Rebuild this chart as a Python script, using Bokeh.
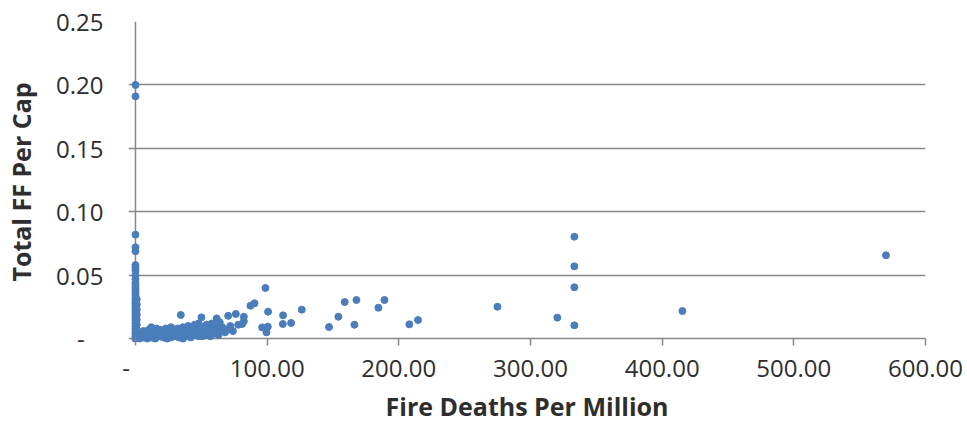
from bokeh.plotting import figure
from bokeh.models import Range1d, FixedTicker, CustomJSTickFormatter, Span, ColumnDataSource
from bokeh.embed import file_html
from bokeh.resources import INLINE

# ---- data ----
# points stacked at ~0 fire deaths per million
stack_x = [0, 0, 0, 0, 0, 0, 0, 0, 0, 0, 0, 0, 0, 0, 0, 0, 0, 0, 0, 0, 0, 0, 0, 0, 0, 0, 0, 0, 0, 0, 0, 0, 0,
           1.0, 1.0, 1.0, 1.0, 1.0, 1.0, 1.0, 1.0, 1.0, 0.5, 0.5, 0.5, 0.5]
stack_y = [0.200, 0.191, 0.082, 0.072, 0.069, 0.058, 0.056, 0.054, 0.050, 0.047, 0.044, 0.042, 0.040,
           0.038, 0.036, 0.034, 0.032, 0.030, 0.028, 0.026, 0.024, 0.022, 0.020, 0.018, 0.016, 0.014,
           0.012, 0.010, 0.008, 0.006, 0.004, 0.002, 0.000,
           0.031, 0.027, 0.023, 0.019, 0.015, 0.011, 0.007, 0.003, 0.001, 0.025, 0.017, 0.009, 0.005]

# dense low cluster, 0-130 deaths per million
low_x = [2, 3, 4, 5, 6, 7, 8, 9, 10, 11, 12, 13, 14, 15, 16, 17, 18, 19, 20, 21, 22, 23, 24, 25, 26, 27,
         28, 29, 30, 31, 32, 33, 34.4, 35, 36, 37, 38, 39, 40, 41, 42, 43, 44, 45, 46, 47, 48, 49, 50.1,
         51, 52, 53, 54, 55, 56, 57, 58, 59, 60, 61.7, 62, 64, 65, 66, 68, 70.4, 70.8, 72, 74, 76.2, 78,
         81, 82.3, 82.3, 87.3, 90.4, 96.2, 98.7, 99.5, 100.5, 100.7, 111.9, 112.1, 118.2, 126.3,
         3, 6, 9, 12, 15, 18, 21, 24, 27, 30, 33, 36, 39, 42, 45, 48, 51, 54, 57, 60, 63]
low_y = [0.002, 0.004, 0.001, 0.003, 0.006, 0.002, 0.005, 0.003, 0.007, 0.004, 0.009, 0.002, 0.006,
         0.004, 0.008, 0.003, 0.005, 0.007, 0.002, 0.006, 0.004, 0.008, 0.003, 0.006, 0.005, 0.009,
         0.004, 0.007, 0.003, 0.006, 0.008, 0.005, 0.0187, 0.004, 0.009, 0.006, 0.003, 0.008, 0.010,
         0.005, 0.007, 0.004, 0.009, 0.011, 0.006, 0.008, 0.012, 0.005, 0.0168, 0.009, 0.007, 0.004,
         0.011, 0.006, 0.009, 0.005, 0.012, 0.008, 0.006, 0.016, 0.010, 0.0129, 0.007, 0.009, 0.005,
         0.018, 0.0076, 0.010, 0.006, 0.0195, 0.011, 0.0116, 0.0173, 0.0137, 0.026, 0.0279, 0.0089,
         0.040, 0.005, 0.0095, 0.0213, 0.0116, 0.0184, 0.0124, 0.0229,
         0.000, 0.001, 0.000, 0.001, 0.000, 0.002, 0.001, 0.000, 0.001, 0.002, 0.001, 0.000, 0.002,
         0.001, 0.003, 0.002, 0.002, 0.003, 0.002, 0.004, 0.003]

# scattered higher-death points
high_x = [147.0, 154.1, 158.9, 167.8, 166.3, 184.5, 189.1, 208.0, 214.6, 274.9, 320.4,
          333.3, 333.3, 333.3, 333.3, 415.4, 570.0]
high_y = [0.0092, 0.0173, 0.0289, 0.0305, 0.0110, 0.0244, 0.0305, 0.0113, 0.0147, 0.0252, 0.0166,
          0.0804, 0.0570, 0.0405, 0.0105, 0.0218, 0.0657]

x_ticks = [0, 100, 200, 300, 400, 500, 600]
y_ticks = [0, 0.05, 0.10, 0.15, 0.20, 0.25]
x_title = "Fire Deaths Per Million"
y_title = "Total FF Per Cap"

deaths = stack_x + low_x + high_x
ff = stack_y + low_y + high_y
src = ColumnDataSource(dict(x=deaths, y=ff))

GRID = "#878787"
TXT = "#2e2e2e"
BLUE = "#4A7EBB"
FONT = "Open Sans"

p = figure(width=967, height=426, output_backend="svg", toolbar_location=None,
           x_range=Range1d(-5.3, 600), y_range=Range1d(-0.003, 0.25),
           min_border_left=128, min_border_right=42, min_border_top=21, min_border_bottom=84)
p.outline_line_color = None
p.background_fill_color = "white"
p.border_fill_color = "white"

p.scatter("x", "y", source=src, size=7, fill_color=BLUE, line_color=BLUE)

# vertical axis line at x = 0
p.add_layout(Span(location=0, dimension="height", line_color=GRID, line_width=1.5, level="underlay"))

p.xgrid.grid_line_color = None
p.ygrid.grid_line_color = GRID
p.ygrid.grid_line_width = 1.5
p.ygrid.ticker = FixedTicker(ticks=y_ticks)

zero_fmt_y = """return tick == 0 ? "-\\u00a0\\u00a0\\u00a0" : tick.toFixed(2);"""
zero_fmt_x = """return tick == 0 ? "-\\u00a0\\u00a0\\u00a0" : tick.toFixed(2);"""

xa = p.xaxis[0]
xa.ticker = FixedTicker(ticks=x_ticks)
xa.formatter = CustomJSTickFormatter(code=zero_fmt_x)
xa.axis_line_color = None
xa.major_tick_line_color = GRID
xa.major_tick_line_width = 1.5
xa.major_tick_in = 4
xa.major_tick_out = 3
xa.minor_tick_line_color = None
xa.major_label_standoff = 5
xa.major_label_text_font = FONT
xa.major_label_text_font_size = "24px"
xa.major_label_text_color = TXT
xa.axis_label = x_title
xa.axis_label_text_font = FONT
xa.axis_label_text_font_style = "bold"
xa.axis_label_text_font_size = "25px"
xa.axis_label_text_color = TXT
xa.axis_label_standoff = 2

ya = p.yaxis[0]
ya.ticker = FixedTicker(ticks=y_ticks)
ya.formatter = CustomJSTickFormatter(code=zero_fmt_y)
ya.axis_line_color = None
ya.major_tick_line_color = None
ya.major_tick_in = 0
ya.major_tick_out = 0
ya.minor_tick_line_color = None
ya.major_label_standoff = 25
ya.major_label_text_font = FONT
ya.major_label_text_font_size = "24px"
ya.major_label_text_color = TXT
ya.axis_label = y_title
ya.axis_label_text_font = FONT
ya.axis_label_text_font_style = "bold"
ya.axis_label_text_font_size = "25px"
ya.axis_label_text_color = TXT
ya.axis_label_standoff = 15

open("out.html", "w").write(file_html(p, INLINE))
